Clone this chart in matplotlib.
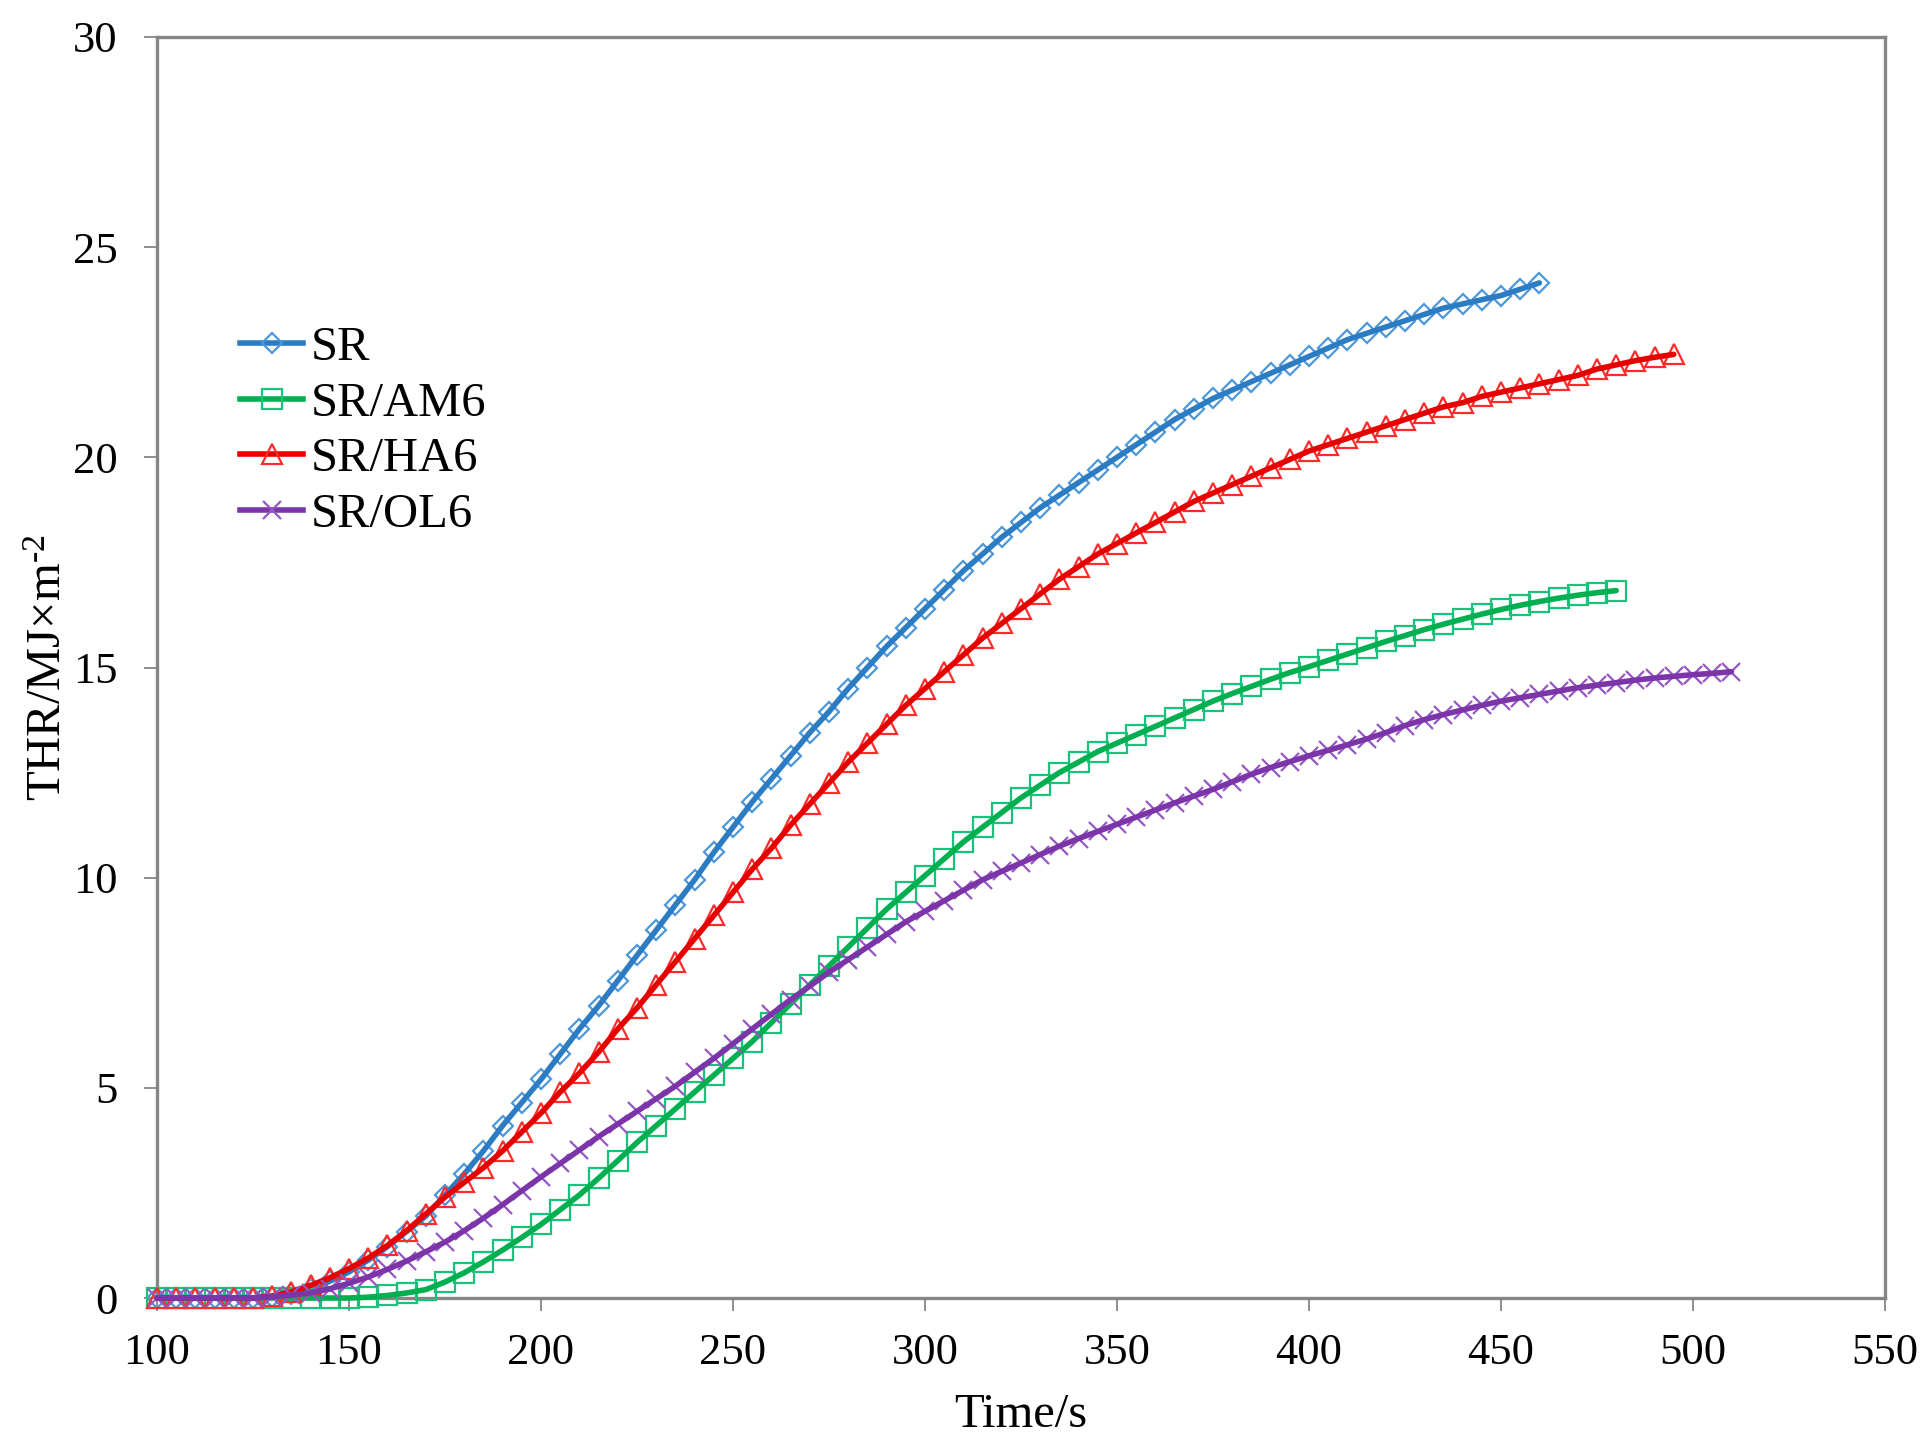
import matplotlib
matplotlib.use("Agg")
import matplotlib.pyplot as plt
from matplotlib.lines import Line2D

plt.rcParams['font.family'] = ['Liberation Serif', 'DejaVu Serif']
plt.rcParams['mathtext.fontset'] = 'custom'
plt.rcParams['mathtext.rm'] = 'Liberation Serif'
plt.rcParams['mathtext.it'] = 'Liberation Serif:italic'

# ---------------- data ----------------
series_names = ["SR", "SR/AM6", "SR/HA6", "SR/OL6"]

t_sr = list(range(100, 461, 5))
thr_sr = [0, 0, 0, 0, 0, 0,
          0.03, 0.1, 0.22, 0.4, 0.62, 0.9, 1.22, 1.58, 1.95, 2.45,
          2.95, 3.5, 4.1, 4.65, 5.2, 5.8, 6.4, 6.95, 7.55, 8.15,
          8.75, 9.35, 9.95, 10.6, 11.2, 11.8, 12.35, 12.9, 13.45, 13.95,
          14.5, 15.0, 15.5, 15.95, 16.4, 16.85, 17.3, 17.7, 18.1, 18.45,
          18.8, 19.1, 19.4, 19.7, 20.0, 20.3, 20.6, 20.9, 21.15, 21.4,
          21.6, 21.8, 22.0, 22.2, 22.4, 22.6, 22.8, 22.95, 23.1, 23.25,
          23.4, 23.55, 23.65, 23.75, 23.85, 24.0, 24.15]

t_am6 = list(range(100, 481, 5))
thr_am6 = [0, 0, 0, 0, 0, 0, 0, 0, 0, 0, 0,
           0.02, 0.06, 0.12, 0.2, 0.38, 0.6, 0.86, 1.14, 1.44, 1.75,
           2.1, 2.45, 2.85, 3.27, 3.7, 4.1, 4.5, 4.9, 5.3, 5.7,
           6.1, 6.55, 7.0, 7.45, 7.9, 8.35, 8.8, 9.25, 9.65, 10.05,
           10.45, 10.85, 11.2, 11.55, 11.9, 12.2, 12.5, 12.75, 13.0, 13.2,
           13.4, 13.6, 13.8, 14.0, 14.2, 14.38, 14.55, 14.72, 14.88, 15.02,
           15.17, 15.32, 15.47, 15.62, 15.76, 15.9, 16.03, 16.15, 16.27, 16.38,
           16.48, 16.57, 16.65, 16.72, 16.78, 16.83]

t_ha6 = list(range(100, 496, 5))
thr_ha6 = [0, 0, 0, 0, 0, 0,
           0.05, 0.15, 0.3, 0.48, 0.7, 0.95, 1.25, 1.6, 2.0, 2.4,
           2.75, 3.1, 3.5, 3.95, 4.4, 4.9, 5.35, 5.85, 6.4, 6.9,
           7.45, 8.0, 8.55, 9.1, 9.65, 10.2, 10.7, 11.25, 11.75, 12.25,
           12.75, 13.2, 13.65, 14.1, 14.5, 14.9, 15.3, 15.7, 16.05, 16.4,
           16.75, 17.1, 17.4, 17.7, 17.95, 18.2, 18.45, 18.7, 18.95, 19.15,
           19.35, 19.55, 19.75, 19.95, 20.15, 20.3, 20.45, 20.6, 20.75, 20.9,
           21.05, 21.2, 21.3, 21.45, 21.55, 21.65, 21.75, 21.85, 21.95, 22.1,
           22.2, 22.3, 22.38, 22.45]

t_ol6 = list(range(100, 511, 5))
thr_ol6 = [0, 0, 0, 0, 0, 0,
           0.03, 0.07, 0.12, 0.22, 0.35, 0.5, 0.68, 0.88, 1.1, 1.33,
           1.6, 1.9, 2.22, 2.55, 2.88, 3.2, 3.52, 3.84, 4.14, 4.44,
           4.74, 5.04, 5.37, 5.7, 6.05, 6.4, 6.75, 7.1, 7.42, 7.75,
           8.05, 8.35, 8.65, 8.95, 9.2, 9.45, 9.7, 9.95, 10.15, 10.35,
           10.55, 10.75, 10.93, 11.1, 11.27, 11.44, 11.61, 11.78, 11.94, 12.1,
           12.28, 12.46, 12.62, 12.76, 12.9, 13.03, 13.16, 13.3, 13.45, 13.62,
           13.76, 13.88, 13.99, 14.1, 14.2, 14.28, 14.36, 14.44, 14.52, 14.58,
           14.64, 14.7, 14.75, 14.79, 14.83, 14.86, 14.9]

x_ticks = [100, 150, 200, 250, 300, 350, 400, 450, 500, 550]
y_ticks = [0, 5, 10, 15, 20, 25, 30]

# ---------------- styling ----------------
line_colors = ['#2B7CC2', '#00B050', '#E60000', '#7B35A8']
mark_colors = ['#4C97DA', '#19C27A', '#FF2A2A', '#9656C4']
markers = ['D', 's', '^', 'x']
msizes = [10, 14, 14, 12.5]

fig = plt.figure(figsize=(19.26, 14.51), dpi=100)
ax = fig.add_axes([157/1926, 153/1451, 1728/1926, 1261/1451])

data = [(t_sr, thr_sr), (t_am6, thr_am6), (t_ha6, thr_ha6), (t_ol6, thr_ol6)]
handles = []
for i, (t, y) in enumerate(data):
    z = 2 + i * 2
    ax.plot(t, y, linestyle='none', marker=markers[i], markersize=msizes[i],
            markerfacecolor='none', markeredgecolor=mark_colors[i],
            markeredgewidth=1.6, zorder=z, clip_on=False)
    ax.plot(t, y, color=line_colors[i], lw=4.0, zorder=z + 1,
            solid_capstyle='round', clip_on=False)
    handles.append(Line2D([], [], color=line_colors[i], lw=4.0,
                          marker=markers[i], markersize=msizes[i],
                          markerfacecolor='none', markeredgecolor=mark_colors[i],
                          markeredgewidth=1.6))

ax.set_xlim(100, 550)
ax.set_ylim(0, 30)
ax.set_xticks(x_ticks)
ax.set_yticks(y_ticks)
ax.set_xticklabels([str(v) for v in x_ticks])
ax.set_yticklabels([str(v) for v in y_ticks])

spine_col = '#868686'
for s in ax.spines.values():
    s.set_color(spine_col)
    s.set_linewidth(2.4)
ax.tick_params(axis='both', direction='out', length=9.5, width=1.3,
               color=spine_col, labelsize=32, labelcolor='black')
ax.tick_params(axis='x', pad=16)
ax.tick_params(axis='y', pad=19)

ax.set_xlabel('Time/s', fontsize=35, labelpad=14)
ax.set_ylabel('THR/MJ×m$^{\u2010 2}$', fontsize=35, labelpad=1)

leg = ax.legend(handles, series_names, loc='upper left',
                bbox_to_anchor=(240/1926, 1 - 326/1451),
                bbox_transform=fig.transFigure, frameon=False,
                fontsize=35, numpoints=1, handlelength=1.3,
                handletextpad=0.15, labelspacing=0.24, borderpad=0,
                borderaxespad=0)

fig.savefig('out.png', dpi=100)
